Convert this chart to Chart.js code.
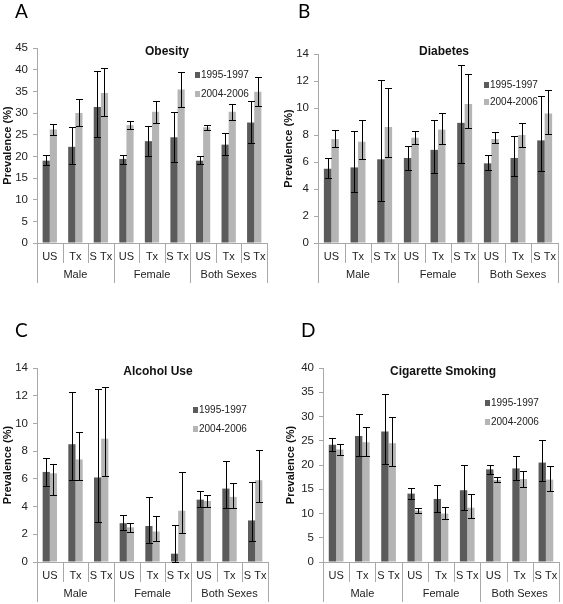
<!DOCTYPE html>
<html>
<head>
<meta charset="utf-8">
<script src="https://cdn.jsdelivr.net/npm/chart.js@4.4.1/dist/chart.umd.min.js"></script>
<style>
body{margin:0;background:#fff;width:563px;height:604px;position:relative;overflow:hidden;}
canvas{position:absolute;}
</style>
</head>
<body>
<canvas id="chartA" width="281" height="300" style="left:0;top:0"></canvas>
<canvas id="chartB" width="282" height="300" style="left:281px;top:0"></canvas>
<canvas id="chartC" width="281" height="304" style="left:0;top:300px"></canvas>
<canvas id="chartD" width="282" height="304" style="left:281px;top:300px"></canvas>
<script>
const categories = ['US', 'Tx', 'S Tx', 'US', 'Tx', 'S Tx', 'US', 'Tx', 'S Tx'];
const groups = ['Male', 'Female', 'Both Sexes'];
const seriesNames = ['1995-1997', '2004-2006'];

// A - obesity
const obesityEarly = [19.0, 22.2, 31.4, 19.4, 23.5, 24.4, 19.0, 22.7, 27.8];
const obesityEarlyLow = [17.9, 18.3, 24.5, 18.3, 20.0, 18.6, 18.3, 20.4, 23.1];
const obesityEarlyHigh = [20.3, 26.8, 39.6, 20.4, 26.9, 30.2, 20.0, 25.5, 32.7];
const obesityLate = [26.2, 30.0, 34.6, 27.2, 30.3, 35.4, 26.7, 30.3, 34.9];
const obesityLateLow = [25.0, 26.9, 29.4, 26.3, 27.8, 31.5, 26.0, 28.5, 31.7];
const obesityLateHigh = [27.4, 33.2, 40.3, 28.1, 32.7, 39.4, 27.3, 32.1, 38.3];

// B - diabetes
const diabetesEarly = [5.5, 5.6, 6.2, 6.3, 6.9, 8.9, 5.9, 6.3, 7.6];
const diabetesEarlyLow = [4.8, 3.8, 3.1, 5.4, 5.2, 5.9, 5.4, 5.0, 5.3];
const diabetesEarlyHigh = [6.3, 8.3, 12.1, 7.2, 9.1, 13.2, 6.5, 7.9, 10.9];
const diabetesLate = [7.7, 7.5, 8.6, 7.8, 8.4, 10.3, 7.7, 8.0, 9.6];
const diabetesLateLow = [7.1, 6.2, 6.4, 7.3, 7.3, 8.5, 7.4, 7.1, 8.1];
const diabetesLateHigh = [8.4, 9.1, 11.5, 8.3, 9.6, 12.5, 8.2, 8.9, 11.3];

// C - alcohol use
const alcoholEarly = [6.5, 8.5, 6.1, 2.8, 2.6, 0.6, 4.5, 5.3, 3.0];
const alcoholEarlyLow = [5.5, 5.9, 2.9, 2.3, 1.4, 0.0, 4.0, 3.9, 1.5];
const alcoholEarlyHigh = [7.5, 12.3, 12.5, 3.4, 4.7, 2.7, 5.1, 7.3, 5.8];
const alcoholLate = [6.4, 7.4, 8.9, 2.5, 2.2, 3.7, 4.4, 4.7, 5.9];
const alcoholLateLow = [4.8, 5.9, 6.2, 2.2, 1.5, 2.1, 4.0, 3.9, 4.3];
const alcoholLateHigh = [7.1, 9.4, 12.6, 2.8, 3.3, 6.5, 4.8, 5.7, 8.1];

// D - cigarette smoking
const smokingEarly = [24.2, 26.0, 26.9, 14.1, 13.0, 14.8, 19.1, 19.3, 20.5];
const smokingEarlyLow = [22.8, 21.9, 20.3, 13.0, 10.3, 10.7, 18.2, 16.9, 16.6];
const smokingEarlyHigh = [25.5, 30.5, 34.7, 15.2, 15.9, 20.1, 20.0, 21.9, 25.1];
const smokingLate = [23.2, 24.7, 24.5, 10.6, 10.0, 11.2, 16.9, 17.1, 17.0];
const smokingLateLow = [22.0, 21.8, 19.8, 10.1, 8.8, 9.0, 16.4, 15.5, 14.6];
const smokingLateHigh = [24.4, 27.9, 29.8, 11.1, 11.3, 14.1, 17.6, 18.8, 19.8];

const darkColor = '#5b5b5b';
const lightColor = '#b5b5b5';
const axisColor = '#a8a8a8';
const fontFamily = '"Liberation Sans", Arial, sans-serif';

const errorBars = {
  id: 'errorBars',
  afterDatasetsDraw(chart) {
    const ctx = chart.ctx;
    const y = chart.scales.y;
    ctx.save();
    ctx.strokeStyle = '#000';
    ctx.lineWidth = 1;
    chart.data.datasets.forEach((ds, d) => {
      const meta = chart.getDatasetMeta(d);
      meta.data.forEach((bar, i) => {
        const x = Math.round(bar.x) + 0.5;
        const top = Math.round(y.getPixelForValue(ds.errHigh[i])) + 0.5;
        const bot = Math.round(y.getPixelForValue(ds.errLow[i])) + 0.5;
        ctx.beginPath();
        ctx.moveTo(x, top); ctx.lineTo(x, bot);
        ctx.moveTo(x - 3.5, top); ctx.lineTo(x + 3.5, top);
        ctx.moveTo(x - 3.5, bot); ctx.lineTo(x + 3.5, bot);
        ctx.stroke();
      });
    });
    ctx.restore();
  }
};

const panelDecor = {
  id: 'panelDecor',
  afterDraw(chart) {
    const o = chart.options.plugins.panelDecor;
    const ctx = chart.ctx;
    const xs = chart.scales.x;
    const bottom = chart.chartArea.bottom;
    ctx.save();
    // category separators
    ctx.strokeStyle = axisColor;
    ctx.lineWidth = 1;
    for (let i = 0; i <= categories.length; i++) {
      let bx;
      if (i === 0) bx = xs.left;
      else if (i === categories.length) bx = xs.right;
      else bx = (xs.getPixelForValue(i - 1) + xs.getPixelForValue(i)) / 2;
      bx = Math.round(bx) + 0.5;
      const len = (i % 3 === 0) ? 40 : 20;
      ctx.beginPath();
      ctx.moveTo(bx, bottom);
      ctx.lineTo(bx, bottom + len);
      ctx.stroke();
    }
    // category labels and group labels
    ctx.fillStyle = '#222';
    ctx.textAlign = 'center';
    ctx.textBaseline = 'middle';
    ctx.font = '11px ' + fontFamily;
    categories.forEach((c, i) => {
      ctx.fillText(c, xs.getPixelForValue(i), bottom + 14);
    });
    groups.forEach((g, k) => {
      ctx.fillText(g, xs.getPixelForValue(k * 3 + 1), bottom + 32);
    });
    // title inside the plot
    ctx.font = 'bold 12px ' + fontFamily;
    ctx.fillStyle = '#111';
    ctx.fillText(o.title, o.titleX, o.titleY);
    // legend
    ctx.font = '10px ' + fontFamily;
    ctx.textAlign = 'left';
    chart.data.datasets.forEach((ds, d) => {
      const ly = o.legendY + d * o.legendGap;
      ctx.fillStyle = ds.backgroundColor;
      ctx.fillRect(o.legendX, ly - 3, 5, 6);
      ctx.fillStyle = '#222';
      ctx.fillText(ds.label, o.legendX + 6, ly);
    });
    // panel letter
    ctx.font = '19px Lato, "Open Sans", sans-serif';
    ctx.fillStyle = '#000';
    ctx.textBaseline = 'alphabetic';
    ctx.fillText(o.letter, o.letterX, o.letterY);
    ctx.restore();
  }
};

function makePanel(id, p) {
  const canvas = document.getElementById(id);
  const W = canvas.width, H = canvas.height;
  return new Chart(canvas, {
    type: 'bar',
    data: {
      labels: categories,
      datasets: [
        { label: seriesNames[0], data: p.early, errLow: p.earlyLow, errHigh: p.earlyHigh, backgroundColor: darkColor, borderWidth: 0 },
        { label: seriesNames[1], data: p.late, errLow: p.lateLow, errHigh: p.lateHigh, backgroundColor: lightColor, borderWidth: 0 }
      ]
    },
    options: {
      responsive: false,
      animation: false,
      layout: { padding: { top: p.top, right: W - p.right, left: 0, bottom: 0 } },
      datasets: { bar: { categoryPercentage: 0.56, barPercentage: 1 } },
      scales: {
        x: {
          offset: true,
          grid: { display: false },
          border: { color: axisColor },
          ticks: { display: false },
          afterFit: s => { s.height = H - p.bottom; }
        },
        y: {
          min: 0,
          max: p.yMax,
          ticks: { stepSize: p.yStep, color: '#222', padding: 5, font: { size: 11.5, family: fontFamily } },
          grid: { drawOnChartArea: false, tickLength: 4, color: axisColor },
          border: { color: axisColor },
          title: { display: true, text: 'Prevalence (%)', color: '#111', padding: { top: p.yTitlePad, bottom: 0 }, font: { size: 11, weight: 'bold', family: fontFamily } },
          afterFit: s => { s.width = p.left; }
        }
      },
      plugins: {
        legend: { display: false },
        tooltip: { enabled: false },
        panelDecor: p.decor
      }
    },
    plugins: [errorBars, panelDecor]
  });
}

makePanel('chartA', {
  early: obesityEarly, earlyLow: obesityEarlyLow, earlyHigh: obesityEarlyHigh,
  late: obesityLate, lateLow: obesityLateLow, lateHigh: obesityLateHigh,
  yMax: 45, yStep: 5, left: 37, right: 267, top: 48, bottom: 243, yTitlePad: 1,
  decor: { letter: 'A', letterX: 15, letterY: 18, title: 'Obesity', titleX: 167, titleY: 52, legendX: 195, legendY: 75, legendGap: 19 }
});
makePanel('chartB', {
  early: diabetesEarly, earlyLow: diabetesEarlyLow, earlyHigh: diabetesEarlyHigh,
  late: diabetesLate, lateLow: diabetesLateLow, lateHigh: diabetesLateHigh,
  yMax: 14, yStep: 2, left: 37, right: 277, top: 54, bottom: 243, yTitlePad: 1,
  decor: { letter: 'B', letterX: 17, letterY: 18, title: 'Diabetes', titleX: 163, titleY: 52, legendX: 203, legendY: 85, legendGap: 17 }
});
makePanel('chartC', {
  early: alcoholEarly, earlyLow: alcoholEarlyLow, earlyHigh: alcoholEarlyHigh,
  late: alcoholLate, lateLow: alcoholLateLow, lateHigh: alcoholLateHigh,
  yMax: 14, yStep: 2, left: 37, right: 268, top: 68, bottom: 262, yTitlePad: 1,
  decor: { letter: 'C', letterX: 15, letterY: 37, title: 'Alcohol Use', titleX: 158, titleY: 72, legendX: 193, legendY: 110, legendGap: 19 }
});
makePanel('chartD', {
  early: smokingEarly, earlyLow: smokingEarlyLow, earlyHigh: smokingEarlyHigh,
  late: smokingLate, lateLow: smokingLateLow, lateHigh: smokingLateHigh,
  yMax: 40, yStep: 5, left: 42, right: 278, top: 68, bottom: 262, yTitlePad: 3,
  decor: { letter: 'D', letterX: 20, letterY: 37, title: 'Cigarette Smoking', titleX: 162, titleY: 72, legendX: 204, legendY: 103, legendGap: 19 }
});
</script>
</body>
</html>
